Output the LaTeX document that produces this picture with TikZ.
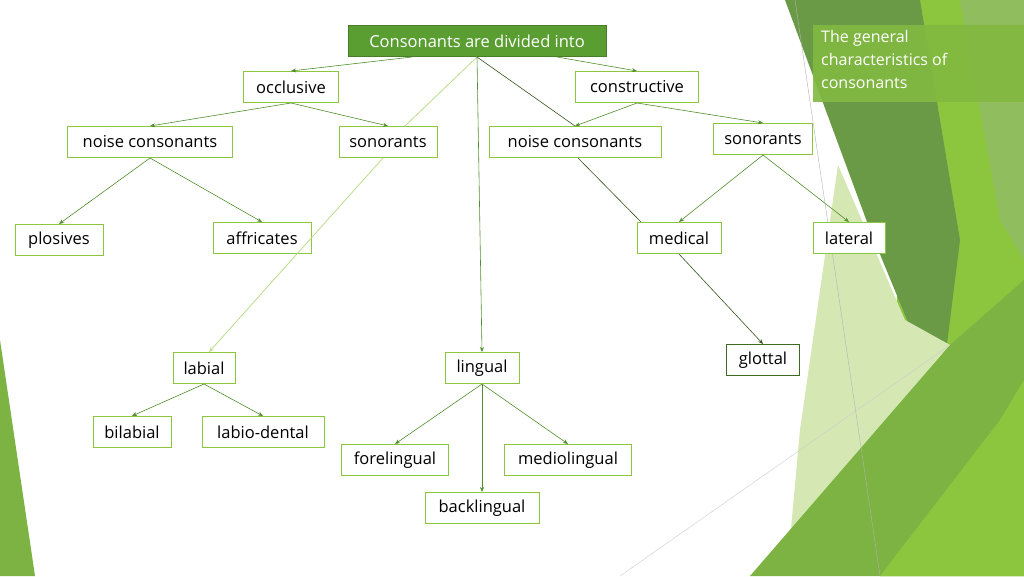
\documentclass[tikz,border=0pt]{standalone}
\usepackage{fontspec}
\setmainfont{Open Sans}
\usetikzlibrary{arrows.meta}
\definecolor{gA}{HTML}{5A9E32}
\definecolor{gB}{HTML}{8CC63F}
\definecolor{gD}{HTML}{6A9A45}
\definecolor{gL}{HTML}{D5E8B4}
\definecolor{gM}{HTML}{7CB342}
\definecolor{gK}{HTML}{3E6B22}
\tikzset{
 box/.style={draw=gB,line width=1pt,fill=white,inner sep=0pt,minimum height=31pt,font=\fontsize{16.5}{18}\selectfont,text=black},
 dbox/.style={box,draw=gK},
 ed/.style={draw=gA!90!black,line width=0.6pt,-{Stealth[length=5pt,width=4pt]}},
 led/.style={draw=gB!60,line width=0.8pt},
 ded/.style={draw=gK!80!black,line width=0.6pt}
}
\begin{document}
\begin{tikzpicture}[x=1pt,y=-1pt]
\useasboundingbox (0,0) rectangle (1024,576);
\fill[white] (0,0) rectangle (1024,576);
% background
\fill[gB] (915,0) -- (1024,0) -- (1024,576) -- (880,576) -- cycle;
\fill[gD] (785,0) -- (920,0) -- (960,240) -- (940,400) -- (870,230) -- cycle;
\fill[gM!85] (960,0) -- (1024,0) -- (1024,260) -- (1000,220) -- cycle;
\fill[gL] (838,165) -- (905,320) -- (950,345) -- (790,540) -- (800,430) -- cycle;
\fill[gM] (750,576) -- (950,345) -- (1024,280) -- (1024,576) -- cycle;
\fill[gB] (880,576) -- (1000,420) -- (1024,380) -- (1024,576) -- cycle;
\fill[gM] (0,340) -- (35,576) -- (0,576) -- cycle;
\draw[gray!60,line width=0.4pt] (795,0) -- (880,576);
\draw[gray!40,line width=0.4pt] (620,576) -- (950,345);
\fill[gB!70!gD,opacity=0.9] (813,25) rectangle (1024,102);
\node[anchor=north west,align=left,text=white,font=\fontsize{16}{23}\selectfont,inner sep=0pt] (title) at (821,30) {The general\\characteristics of\\consonants};
% nodes
\node[box,fill=gA,draw=gA!80!black,text=white,minimum width=258pt] (top) at (477,41) {Consonants are divided into};
\node[box,minimum width=95pt] (occ) at (291,87) {occlusive};
\node[box,minimum width=123pt] (con) at (637,87) {constructive};
\node[box,minimum width=165pt] (nl) at (150,142) {noise consonants};
\node[box,minimum width=98pt] (sl) at (388,142) {sonorants};
\node[box,minimum width=172pt] (nr) at (575,142) {noise consonants};
\node[box,minimum width=99pt] (sr) at (763,139) {sonorants};
\node[box,minimum width=88pt] (plo) at (59,240) {plosives};
\node[box,minimum width=98pt] (aff) at (262,238) {affricates};
\node[box,minimum width=84pt] (med) at (679,238) {medical};
\node[box,minimum width=72pt] (lat) at (849,238) {lateral};
\node[dbox,minimum width=73pt] (glo) at (763,360) {glottal};
\node[box,minimum width=62pt] (lab) at (204,368) {labial};
\node[box,minimum width=74pt] (lin) at (482,368) {lingual};
\node[box,minimum width=78pt] (bil) at (132,432) {bilabial};
\node[box,minimum width=122pt] (lad) at (263,432) {labio-dental};
\node[box,minimum width=107pt] (for) at (395,460) {forelingual};
\node[box,minimum width=127pt] (mdl) at (568,460) {mediolingual};
\node[box,minimum width=114pt] (bac) at (482,508) {backlingual};
% edges
\draw[ed] ([xshift=-65pt]top.south) -- (occ.north);
\draw[ed] ([xshift=80pt]top.south) -- (con.north);
\draw[led] (top.south) -- ([xshift=17pt]sl.north);
\draw[ded] (top.south) -- (nr.north);
\draw[ed] (top.south) -- (lin.north);
\draw[ed] (occ.south) -- (nl.north);
\draw[ed] (occ.south) -- (sl.north);
\draw[ed] (con.south) -- (nr.north);
\draw[ed] (con.south) -- (sr.north);
\draw[ed] (nl.south) -- (plo.north);
\draw[ed] (nl.south) -- (aff.north);
\draw[led,-{Stealth[length=5pt,width=4pt]}] ([xshift=-5pt]sl.south) -- ([xshift=5pt]lab.north);
\draw[ded] ([xshift=3pt]nr.south) -- ([xshift=-38pt]med.north);
\draw[ed] (sr.south) -- (med.north);
\draw[ed] (sr.south) -- (lat.north);
\draw[ded,-{Stealth[length=5pt,width=4pt]}] (med.south) -- (glo.north);
\draw[ed] (lab.south) -- (bil.north);
\draw[ed] (lab.south) -- (lad.north);
\draw[ed] (lin.south) -- (for.north);
\draw[ed] (lin.south) -- (mdl.north);
\draw[ed] (lin.south) -- (bac.north);
\end{tikzpicture}
\end{document}
